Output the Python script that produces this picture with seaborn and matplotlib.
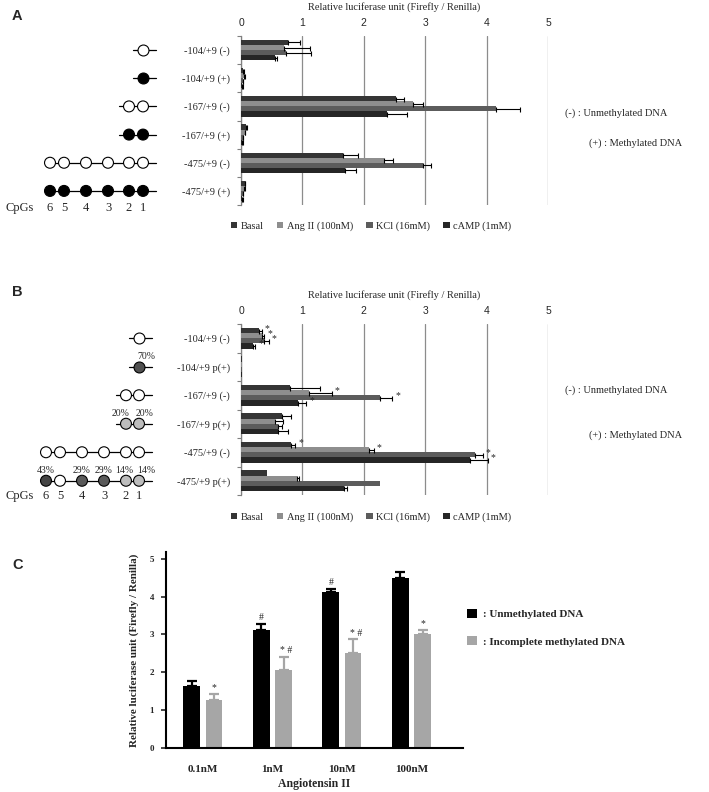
import numpy as np
import pandas as pd
import seaborn as sns
import matplotlib.pyplot as plt
import matplotlib.transforms as mtransforms
from matplotlib.patches import Patch
from matplotlib.container import BarContainer

sns.set_style('white')
plt.rcParams['font.family'] = ['Liberation Serif', 'DejaVu Serif']

# ---------------- data ----------------
treatments = ['Basal', 'Ang II (100nM)', 'KCl (16mM)', 'cAMP (1mM)']
treat_colors = ['#353535', '#8e8e8e', '#5c5c5c', '#262626']

constructs_A = ['-104/+9 (-)', '-104/+9 (+)', '-167/+9 (-)', '-167/+9 (+)',
                '-475/+9 (-)', '-475/+9 (+)']
basal_A = [0.76, 0.04, 2.52, 0.08, 1.66, 0.06]
ang_A = [0.70, 0.05, 2.80, 0.06, 2.33, 0.05]
kcl_A = [0.73, 0.03, 4.16, 0.03, 2.97, 0.03]
camp_A = [0.55, 0.02, 2.37, 0.02, 1.70, 0.02]
basal_A_err = [0.20, 0.01, 0.14, 0.02, 0.25, 0.01]
ang_A_err = [0.42, 0.02, 0.17, 0.01, 0.15, 0.01]
kcl_A_err = [0.41, 0.01, 0.38, 0.01, 0.12, 0.01]
camp_A_err = [0.04, 0.01, 0.33, 0.01, 0.17, 0.01]

constructs_B = ['-104/+9 (-)', '-104/+9 p(+)', '-167/+9 (-)', '-167/+9 p(+)',
                '-475/+9 (-)', '-475/+9 p(+)']
basal_B = [0.30, 0.01, 0.79, 0.66, 0.81, 0.42]
ang_B = [0.35, 0.01, 1.11, 0.55, 2.09, 0.92]
kcl_B = [0.38, 0.01, 2.27, 0.61, 3.81, 2.27]
camp_B = [0.19, 0.01, 0.93, 0.60, 3.73, 1.67]
basal_B_err = [0.04, 0.0, 0.50, 0.16, 0.07, 0.0]
ang_B_err = [0.03, 0.0, 0.37, 0.14, 0.07, 0.03]
kcl_B_err = [0.07, 0.0, 0.19, 0.05, 0.13, 0.0]
camp_B_err = [0.04, 0.0, 0.13, 0.17, 0.29, 0.05]
basal_B_star = [1, 0, 0, 0, 1, 0]
ang_B_star = [1, 0, 1, 0, 1, 0]
kcl_B_star = [1, 0, 1, 0, 1, 0]
camp_B_star = [1, 0, 1, 0, 1, 0]

doses = ['0.1nM', '1nM', '10nM', '100nM']
dna_types = [': Unmethylated DNA', ': Incomplete methylated DNA']
dna_colors = ['#000000', '#a6a6a6']
unmeth_C = [1.63, 3.12, 4.12, 4.50]
unmeth_C_err = [0.14, 0.16, 0.08, 0.15]
incomp_C = [1.28, 2.06, 2.52, 3.00]
incomp_C_err = [0.16, 0.35, 0.35, 0.12]
unmeth_C_mark = ['', '#', '#', '']
incomp_C_mark = ['*', '* #', '* #', '*']

cpg_numbers = ['6', '5', '4', '3', '2', '1']
# circles per row of the promoter diagrams: which CpGs present, fill
rows_A_cpgs = [[5], [5], [4, 5], [4, 5], [0, 1, 2, 3, 4, 5], [0, 1, 2, 3, 4, 5]]
rows_A_fill = [['white'], ['black'], ['white'] * 2, ['black'] * 2,
               ['white'] * 6, ['black'] * 6]
rows_B_cpgs = rows_A_cpgs
rows_B_fill = [['white'], ['#505050'], ['white'] * 2, ['#bdbdbd'] * 2,
               ['white'] * 6,
               ['#454545', 'white', '#5a5a5a', '#5a5a5a', '#bdbdbd', '#bdbdbd']]
rows_B_pct = [[], ['70%'], [], ['20%', '20%'], [],
              ['43%', '', '29%', '29%', '14%', '14%']]


def long_table(constructs, series, errs):
    recs = []
    for t, vals, es in zip(treatments, series, errs):
        for c, v, e in zip(constructs, vals, es):
            recs.append({'construct': c, 'treatment': t, 'value': v, 'err': e})
    return pd.DataFrame(recs)


dfA = long_table(constructs_A, [basal_A, ang_A, kcl_A, camp_A],
                 [basal_A_err, ang_A_err, kcl_A_err, camp_A_err])
dfB = long_table(constructs_B, [basal_B, ang_B, kcl_B, camp_B],
                 [basal_B_err, ang_B_err, kcl_B_err, camp_B_err])

# ---------------- layout ----------------
W, H = 709, 792
fig = plt.figure(figsize=(W / 100, H / 100), dpi=100)


def px_axes(l, t, r, b):
    return fig.add_axes([l / W, 1 - b / H, (r - l) / W, (b - t) / H])


axA = px_axes(241, 36, 548, 205)
axB = px_axes(241, 324, 548, 495)
axC = px_axes(166, 552, 463, 748)
over = fig.add_axes([0, 0, 1, 1], zorder=-1)
over.set_xlim(0, W)
over.set_ylim(H, 0)
over.axis('off')


def bar_containers(ax):
    return [c for c in ax.containers if isinstance(c, BarContainer)]


def luciferase_panel(ax, df, constructs, stars=None):
    sns.barplot(data=df, x='value', y='construct', hue='treatment', orient='h',
                order=constructs, hue_order=treatments, palette=treat_colors,
                saturation=1, width=0.72, errorbar=None, linewidth=0,
                legend=False, ax=ax, zorder=3)
    for i, cont in enumerate(bar_containers(ax)):
        sub = df[df.treatment == treatments[i]].set_index('construct')
        for j, bar in enumerate(cont):
            c = constructs[j]
            w = bar.get_width()
            yc = bar.get_y() + bar.get_height() / 2
            e = sub.loc[c, 'err']
            if e > 0:
                ax.errorbar(w, yc, xerr=[[0], [e]], fmt='none', ecolor='black',
                            elinewidth=0.8, capsize=1.8, capthick=0.8, zorder=4)
            if stars is not None and stars[i][j]:
                ax.text(w + e + 0.05, yc - 0.08, '*', fontsize=7, ha='left',
                        va='center', zorder=5)
    ax.set_xlim(0, 5)
    ax.set_ylim(5.5, -0.5)
    ax.xaxis.tick_top()
    ax.xaxis.set_label_position('top')
    ax.set_xticks(range(6))
    ax.set_xticklabels([str(i) for i in range(6)], family='Liberation Sans',
                       fontsize=7.5)
    ax.tick_params(axis='x', length=0, pad=6)
    ax.set_xlabel('Relative luciferase unit (Firefly / Renilla)', fontsize=7.5,
                  labelpad=6)
    ax.set_ylabel('')
    ax.tick_params(axis='y', which='major', length=0, pad=8, labelsize=7.5)
    ax.set_yticks(np.arange(-0.5, 6, 1), minor=True)
    ax.tick_params(axis='y', which='minor', length=3, color='#808080', width=0.8,
                   left=True)
    ax.grid(axis='x', color='#8c8c8c', lw=0.9, zorder=0)
    ax.grid(axis='y', visible=False)
    for s in ['top', 'right', 'bottom']:
        ax.spines[s].set_visible(False)
    ax.spines['left'].set_color('#808080')
    ax.spines['left'].set_linewidth(0.9)
    handles = [Patch(facecolor=c, edgecolor='none') for c in treat_colors]
    return handles


hA = luciferase_panel(axA, dfA, constructs_A)
hB = luciferase_panel(axB, dfB, constructs_B,
                      stars=[basal_B_star, ang_B_star, kcl_B_star, camp_B_star])

for y_leg, h in [(226, hA), (517, hB)]:
    fig.legend(h, treatments, loc='center', bbox_to_anchor=(371 / W, 1 - y_leg / H),
               ncol=4, frameon=False, fontsize=7.5, handlelength=0.6,
               handleheight=0.6, handletextpad=0.3, columnspacing=1.3)


# CpG diagrams
def cpg_diagram(ax, xs, line_end, rows, fills, pcts, num_off):
    trans = mtransforms.blended_transform_factory(over.transData, ax.transData)
    for r, (idx, fc) in enumerate(zip(rows, fills)):
        start = xs[idx[0]] - (10 if len(idx) < 6 else 0)
        ax.plot([start, line_end], [r, r], color='black', lw=0.9,
                transform=trans, clip_on=False, zorder=5)
        ax.scatter([xs[k] for k in idx], [r] * len(idx), s=62, c=fc,
                   edgecolors='black', linewidths=0.8, transform=trans,
                   clip_on=False, zorder=6)
        if pcts and pcts[r]:
            n = len(pcts[r])
            for k, p in zip(idx, pcts[r]):
                dx = 0
                if n == 2:
                    dx = -5 if k == 4 else 6
                elif k == 5:
                    dx = 7
                elif k == 4:
                    dx = -2
                ax.text(xs[k] + dx, r - 0.37, p, fontsize=7, ha='center',
                        va='center', transform=trans, clip_on=False)
    ylast = len(rows) - 1 + num_off
    ax.text(5, ylast, 'CpGs', fontsize=9, ha='left', va='center',
            transform=trans, clip_on=False)
    for x, n in zip(xs, cpg_numbers):
        ax.text(x, ylast, n, fontsize=9, ha='center', va='center',
                transform=trans, clip_on=False)


cpg_diagram(axA, [50, 64, 86, 108, 129, 143], 156, rows_A_cpgs, rows_A_fill,
            None, 0.62)
cpg_diagram(axB, [46, 60, 82, 104, 126, 139], 152, rows_B_cpgs, rows_B_fill,
            rows_B_pct, 0.52)

# side notes
for y1, y2 in [(113, 143), (390, 435)]:
    over.text(565, y1, '(-) : Unmethylated DNA', fontsize=7.5, va='center')
    over.text(589, y2, '(+) : Methylated DNA', fontsize=7.5, va='center')

# panel labels
for lab, y in [('A', 16), ('B', 292), ('C', 565)]:
    over.text(12, y, lab, fontsize=10.5, fontweight='bold',
              family='Liberation Sans', va='center')

# ---------------- panel C ----------------
recs = []
for d, v, e in zip(doses, unmeth_C, unmeth_C_err):
    recs.append({'dose': d, 'dna': dna_types[0], 'value': v, 'err': e})
for d, v, e in zip(doses, incomp_C, incomp_C_err):
    recs.append({'dose': d, 'dna': dna_types[1], 'value': v, 'err': e})
dfC = pd.DataFrame(recs)

sns.barplot(data=dfC, x='dose', y='value', hue='dna', order=doses,
            hue_order=dna_types, palette=dna_colors, saturation=1, width=0.64,
            gap=0.25, errorbar=None, linewidth=0, legend=False, ax=axC)
marks = [unmeth_C_mark, incomp_C_mark]
errs = [unmeth_C_err, incomp_C_err]
for i, cont in enumerate(bar_containers(axC)):
    for j, bar in enumerate(cont):
        xc = bar.get_x() + bar.get_width() / 2
        h = bar.get_height()
        e = errs[i][j]
        axC.errorbar(xc, h, yerr=[[0], [e]], fmt='none', ecolor=dna_colors[i],
                     elinewidth=1.6, capsize=3.5, capthick=1.6)
        if marks[i][j]:
            axC.text(xc + (0.04 if ' ' in marks[i][j] else 0), h + e + 0.05,
                     marks[i][j], fontsize=7, ha='center', va='bottom')

axC.set_xlim(-0.53, 3.74)
axC.set_ylim(0, 5.18)
axC.set_yticks(range(6))
axC.set_yticklabels([str(i) for i in range(6)], fontsize=6.5, fontweight='bold')
axC.tick_params(axis='y', length=3.5, width=1.2, pad=5, left=True)
axC.tick_params(axis='x', length=0, pad=12)
for t in axC.get_xticklabels():
    t.set_fontweight('bold')
    t.set_fontsize(8)
axC.set_xlabel('Angiotensin II', fontsize=8.5, fontweight='bold', labelpad=3)
axC.set_ylabel('Relative luciferase unit (Firefly / Renilla)', fontsize=8,
               fontweight='bold', labelpad=8)
sns.despine(ax=axC)
for s in ['left', 'bottom']:
    axC.spines[s].set_color('black')
    axC.spines[s].set_linewidth(1.5)

hC = [Patch(facecolor=c, edgecolor='none') for c in dna_colors]
fig.legend(hC, dna_types, loc='upper left', bbox_to_anchor=(457 / W, 1 - 599 / H),
           frameon=False, handlelength=0.9, handleheight=0.9, handletextpad=0.5,
           labelspacing=1.5, prop={'weight': 'bold', 'size': 8})

fig.savefig('out.png', dpi=100)
